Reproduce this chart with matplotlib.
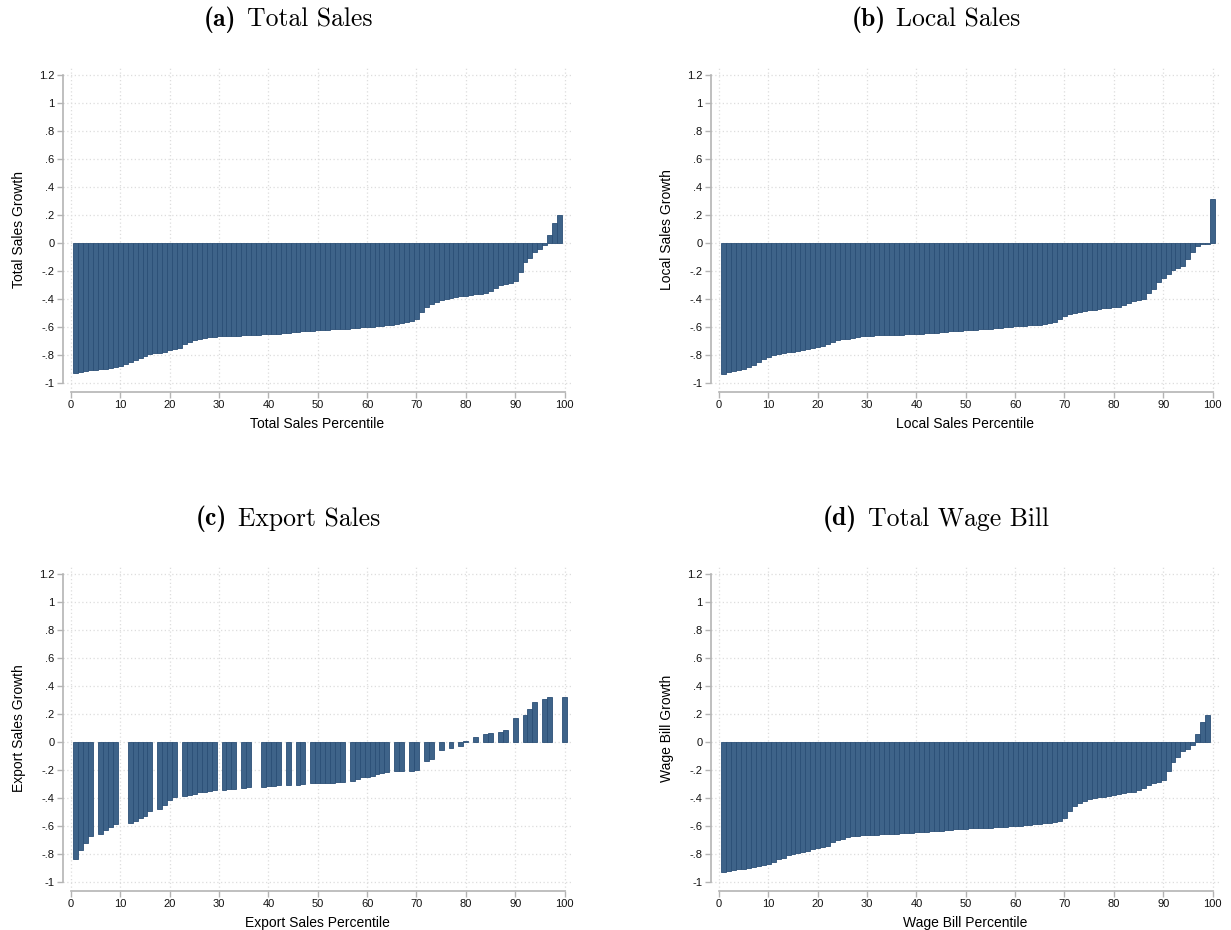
import numpy as np
import matplotlib
matplotlib.use("Agg")
import matplotlib.pyplot as plt

plt.rcParams['font.family'] = ['Liberation Sans', 'DejaVu Sans']
plt.rcParams['mathtext.fontset'] = 'cm'

# ---------------- data ----------------
total_pct = list(range(1, 100))
total_vals = [-0.929, -0.922, -0.915, -0.910, -0.908, -0.903, -0.898, -0.893, -0.889, -0.879,
              -0.867, -0.850, -0.834, -0.819, -0.805, -0.795, -0.788, -0.783, -0.776, -0.764,
              -0.754, -0.747, -0.718, -0.704, -0.695, -0.687, -0.675, -0.671, -0.668, -0.666,
              -0.664, -0.663, -0.662, -0.661, -0.659, -0.657, -0.655, -0.654, -0.652, -0.651,
              -0.650, -0.649, -0.645, -0.642, -0.639, -0.636, -0.632, -0.629, -0.626, -0.623,
              -0.621, -0.619, -0.617, -0.615, -0.613, -0.611, -0.608, -0.605, -0.602, -0.599,
              -0.597, -0.594, -0.591, -0.588, -0.584, -0.580, -0.574, -0.566, -0.555, -0.540,
              -0.491, -0.455, -0.436, -0.422, -0.410, -0.402, -0.395, -0.388, -0.381, -0.376,
              -0.369, -0.364, -0.362, -0.354, -0.343, -0.323, -0.302, -0.290, -0.285, -0.268,
              -0.204, -0.137, -0.105, -0.062, -0.041, -0.017, 0.060, 0.144, 0.199]

local_pct = list(range(1, 101))
local_vals = [-0.934, -0.922, -0.915, -0.908, -0.900, -0.889, -0.872, -0.850, -0.831, -0.814,
              -0.802, -0.793, -0.786, -0.781, -0.776, -0.769, -0.762, -0.757, -0.752, -0.743,
              -0.735, -0.719, -0.707, -0.695, -0.688, -0.683, -0.678, -0.671, -0.666, -0.664,
              -0.662, -0.660, -0.659, -0.658, -0.657, -0.656, -0.655, -0.653, -0.651, -0.650,
              -0.648, -0.646, -0.643, -0.640, -0.637, -0.634, -0.631, -0.628, -0.625, -0.623,
              -0.620, -0.618, -0.616, -0.613, -0.611, -0.608, -0.606, -0.601, -0.599, -0.596,
              -0.594, -0.592, -0.589, -0.587, -0.584, -0.580, -0.573, -0.561, -0.541, -0.522,
              -0.508, -0.503, -0.496, -0.489, -0.481, -0.477, -0.472, -0.467, -0.465, -0.460,
              -0.455, -0.443, -0.429, -0.417, -0.407, -0.398, -0.357, -0.331, -0.278, -0.251,
              -0.220, -0.196, -0.182, -0.163, -0.113, -0.067, -0.024, -0.006, -0.004, 0.311]

export_pct = [1, 2, 3, 4, 6, 7, 8, 9, 12, 13, 14, 15, 16, 18, 19, 20, 21,
              23, 24, 25, 26, 27, 28, 29, 31, 32, 33, 35, 36, 39, 40, 41, 42, 44, 46, 47,
              49, 50, 51, 52, 53, 54, 55, 57, 58, 59, 60, 61, 62, 63, 64, 66, 67, 69, 70,
              72, 73, 75, 77, 79, 80, 82, 84, 85, 87, 88, 90, 92, 93, 94, 96, 97, 100]
export_vals = [-0.836, -0.771, -0.724, -0.669, -0.657, -0.631, -0.610, -0.583,
               -0.576, -0.562, -0.540, -0.526, -0.493, -0.479, -0.448, -0.417, -0.393,
               -0.383, -0.379, -0.371, -0.360, -0.355, -0.350, -0.343, -0.340, -0.336, -0.333,
               -0.331, -0.319, -0.319, -0.314, -0.312, -0.310, -0.305, -0.305, -0.298,
               -0.295, -0.293, -0.293, -0.291, -0.290, -0.289, -0.286,
               -0.276, -0.262, -0.250, -0.248, -0.240, -0.229, -0.219, -0.214,
               -0.210, -0.205, -0.205, -0.202, -0.136, -0.119, -0.060, -0.040, -0.029, 0.004,
               0.033, 0.055, 0.062, 0.074, 0.088, 0.174, 0.195, 0.236, 0.286, 0.310, 0.321, 0.319]

wage_pct = list(range(1, 100))
wage_vals = [-0.929, -0.921, -0.914, -0.910, -0.905, -0.900, -0.893, -0.886, -0.879, -0.869,
             -0.855, -0.833, -0.826, -0.810, -0.800, -0.793, -0.786, -0.779, -0.764, -0.755,
             -0.748, -0.740, -0.714, -0.700, -0.690, -0.676, -0.671, -0.669, -0.667, -0.664,
             -0.662, -0.662, -0.660, -0.657, -0.655, -0.654, -0.652, -0.650, -0.648, -0.646,
             -0.645, -0.643, -0.638, -0.636, -0.634, -0.631, -0.627, -0.624, -0.621, -0.619,
             -0.617, -0.617, -0.614, -0.614, -0.612, -0.610, -0.607, -0.605, -0.602, -0.600,
             -0.598, -0.593, -0.590, -0.588, -0.586, -0.581, -0.576, -0.571, -0.562, -0.545,
             -0.493, -0.457, -0.438, -0.419, -0.410, -0.402, -0.395, -0.390, -0.383, -0.379,
             -0.371, -0.364, -0.360, -0.355, -0.345, -0.329, -0.305, -0.293, -0.286, -0.274,
             -0.205, -0.140, -0.110, -0.067, -0.048, -0.019, 0.060, 0.143, 0.195]

titles = ["(a)", "(b)", "(c)", "(d)"]
title_names = ["Total Sales", "Local Sales", "Export Sales", "Total Wage Bill"]
ylabels = ["Total Sales Growth", "Local Sales Growth", "Export Sales Growth", "Wage Bill Growth"]
xlabels = ["Total Sales Percentile", "Local Sales Percentile", "Export Sales Percentile", "Wage Bill Percentile"]
y_ticks = [-1, -0.8, -0.6, -0.4, -0.2, 0, 0.2, 0.4, 0.6, 0.8, 1, 1.2]
y_ticklabels = ["-1", "-.8", "-.6", "-.4", "-.2", "0", ".2", ".4", ".6", ".8", "1", "1.2"]
x_ticks = [0, 10, 20, 30, 40, 50, 60, 70, 80, 90, 100]

# ---------------- layout ----------------
W, H = 1231, 930
fig = plt.figure(figsize=(W / 100, H / 100), dpi=100)
renderer = fig.canvas.get_renderer()

BAR_FACE = '#3e6389'
BAR_EDGE = '#2b4f76'
SPINE = '#b4b4b4'
GRID = '#dddddd'

XMIN, XMAX = -1.7, 101.4
YMIN, YMAX = -1.062, 1.257
XS = 4.935   # px per x unit
YS = 140.0   # px per y unit

panels = [
    (total_pct, total_vals, 71, 243),
    (local_pct, local_vals, 719, 243),
    (export_pct, export_vals, 71, 742),
    (wage_pct, wage_vals, 719, 742),
]

TITLE_FS = 18.5
GAP_PX = 11

for k, (pct, vals, x0, y0) in enumerate(panels):
    left = x0 + XMIN * XS
    right = x0 + XMAX * XS
    top = y0 - YMAX * YS
    bottom = y0 - YMIN * YS
    ax = fig.add_axes([left / W, 1 - bottom / H, (right - left) / W, (bottom - top) / H])
    ax.set_xlim(XMIN, XMAX)
    ax.set_ylim(YMIN, YMAX)

    # grid
    for t in y_ticks:
        ax.axhline(t, color=GRID, lw=0.9, ls=(0, (1, 2)), zorder=0)
    for t in x_ticks:
        ax.axvline(t, color=GRID, lw=0.9, ls=(0, (1, 2)), zorder=0)

    ax.bar(pct, vals, width=1.0, color=BAR_FACE, edgecolor=BAR_EDGE, linewidth=0.6, zorder=2)

    for s in ['top', 'right']:
        ax.spines[s].set_visible(False)
    ax.spines['left'].set_bounds(-1, 1.2)
    ax.spines['bottom'].set_bounds(0, 100)
    for s in ['left', 'bottom']:
        ax.spines[s].set_color(SPINE)
        ax.spines[s].set_linewidth(1.2)

    ax.set_yticks(y_ticks)
    ax.set_yticklabels(y_ticklabels)
    ax.set_xticks(x_ticks)
    ax.set_xticklabels([str(t) for t in x_ticks])
    ax.tick_params(axis='both', direction='out', length=4, width=1.0, color=SPINE,
                   labelsize=8, labelcolor='#111111', pad=2)

    ax.set_ylabel(ylabels[k], fontsize=10, labelpad=9)
    ax.set_xlabel(xlabels[k], fontsize=10, labelpad=5)

    # title: bold "(x)" + regular name, centred as a group
    cx = x0 + 217
    cy = y0 - 223
    t1 = fig.text(0, 1 - cy / H, titles[k], fontfamily='cmb10', fontsize=TITLE_FS,
                  ha='left', va='center')
    t2 = fig.text(0, 1 - cy / H, title_names[k], fontfamily='cmr10', fontsize=TITLE_FS,
                  ha='left', va='center')
    w1 = t1.get_window_extent(renderer).width
    w2 = t2.get_window_extent(renderer).width
    start = cx - (w1 + GAP_PX + w2) / 2
    t1.set_x(start / W)
    t2.set_x((start + w1 + GAP_PX) / W)

fig.savefig("out.png", dpi=100, facecolor='white')
